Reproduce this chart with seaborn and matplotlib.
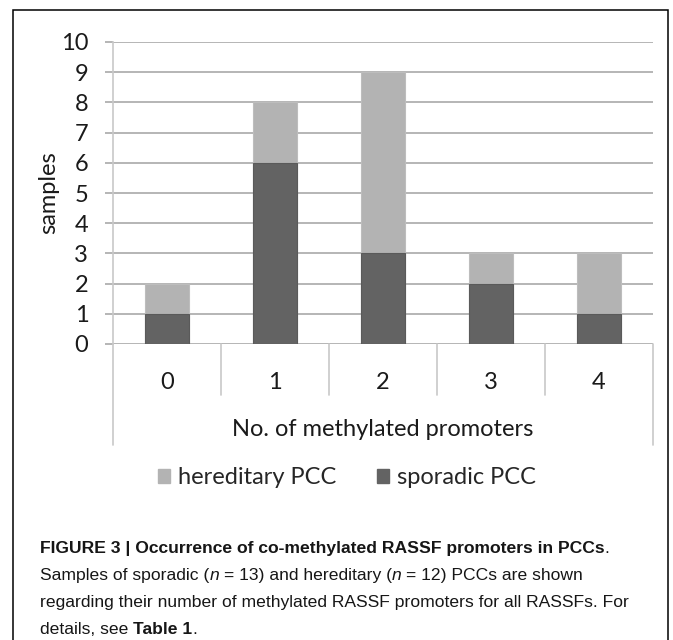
import matplotlib
matplotlib.use("Agg")
import matplotlib.pyplot as plt
import matplotlib.patches as mpatches
import matplotlib.transforms as mtransforms
import pandas as pd
import seaborn as sns

# values
promoters = ["0", "1", "2", "3", "4"]
sporadic = [1, 6, 3, 2, 1]
hereditary = [1, 2, 6, 1, 2]
y_ticks = list(range(0, 11))

W, H = 673, 640
light = "#B3B3B3"
dark = "#636363"
grid_c = "#A9A9A9"
line_c = "#C8C8C8"

sns.set_theme(style="white")
plt.rcParams["font.family"] = ["Lato", "DejaVu Sans"]

df = pd.DataFrame({"promoters": promoters, "sporadic": sporadic, "hereditary": hereditary})
df["total"] = df["sporadic"] + df["hereditary"]

fig = plt.figure(figsize=(W / 100, H / 100), dpi=100)
ax = fig.add_axes([113 / W, 1 - 344 / H, 540 / W, 302 / H])

# stacked bars: totals in light grey, sporadic part drawn over it
sns.barplot(data=df, x="promoters", y="total", color=light, width=0.4,
            edgecolor="#BDBDBD", linewidth=0.8, saturation=1, ax=ax)
sns.barplot(data=df, x="promoters", y="sporadic", color=dark, width=0.4,
            edgecolor="#5A5A5A", linewidth=0.8, saturation=1, ax=ax)

ax.set_xlim(-0.5, 4.5)
ax.set_ylim(0, 10)
ax.set_yticks(y_ticks)
ax.set_axisbelow(True)
ax.yaxis.grid(True, color=grid_c, linewidth=1.2)
ax.xaxis.grid(False)
for s in ["top", "right", "bottom"]:
    ax.spines[s].set_visible(False)
ax.spines["left"].set_color(line_c)
ax.spines["left"].set_linewidth(1.2)

ax.tick_params(axis="y", length=5.8, width=1.2, color=grid_c, pad=12,
               labelsize=17, labelcolor="#1a1a1a", left=True)
ax.tick_params(axis="x", length=0, pad=20, labelsize=17, labelcolor="#1a1a1a")

ax.set_ylabel("samples", fontsize=17, color="#1a1a1a")
ax.yaxis.set_label_coords(-0.12, 0.5)
ax.yaxis.label.set_va("center")
ax.set_xlabel("No. of methylated promoters", fontsize=17, color="#1a1a1a")
ax.xaxis.set_label_coords(0.5, (344 - 430) / 302)
ax.xaxis.label.set_va("center")

# category table lines below the axis
tr = mtransforms.blended_transform_factory(ax.transData, ax.transAxes)
ax.plot([-0.5, -0.5], [0, -101 / 302], color=line_c, lw=1.2, transform=tr, clip_on=False)
ax.plot([4.5, 4.5], [0, -101 / 302], color=line_c, lw=1.2, transform=tr, clip_on=False)
for xs in [0.5, 1.5, 2.5, 3.5]:
    ax.plot([xs, xs], [0, -51 / 302], color=line_c, lw=1.2, transform=tr, clip_on=False)

handles = [mpatches.Patch(facecolor=light, edgecolor=light, label="hereditary PCC"),
           mpatches.Patch(facecolor=dark, edgecolor=dark, label="sporadic PCC")]
fig.legend(handles=handles, loc="center", bbox_to_anchor=(347 / W, 1 - 478 / H),
           ncol=2, frameon=False, fontsize=17, handlelength=0.52, handleheight=0.52,
           handletextpad=0.35, columnspacing=1.7)

# outer frame
fig.patches.append(mpatches.Rectangle((13 / W, -0.05), (668 - 13) / W, 1.05 - 10 / H,
                                      transform=fig.transFigure, fill=False,
                                      edgecolor="black", linewidth=1.1))

# caption
renderer = fig.canvas.get_renderer()
cap_font = ["Liberation Sans", "DejaVu Sans"]
cap_size = 12.6


def text_w(s, **kw):
    t = fig.text(0, 0, s, **kw)
    w = t.get_window_extent(renderer).width
    t.remove()
    return w


def put_runs(y_px, runs, x_px=40):
    x = x_px
    for s, kw in runs:
        props = dict(size=cap_size, family=cap_font, color="#161616")
        props.update(kw)
        sp = text_w("n n", **props) - text_w("nn", **props)
        lead = len(s) - len(s.lstrip(" "))
        trail = len(s) - len(s.rstrip(" "))
        x += lead * sp
        t = fig.text(x / W, 1 - y_px / H, s.strip(" "), va="baseline", ha="left", **props)
        x += t.get_window_extent(renderer).width + trail * sp


B = {"fontweight": "bold"}
I = {"fontstyle": "italic"}
N = {}
put_runs(553, [("FIGURE 3 | Occurrence of co-methylated RASSF promoters in PCCs", B), (".", N)])
put_runs(580, [("Samples of sporadic (", N), ("n", I), (" = 13) and hereditary (", N),
               ("n", I), (" = 12) PCCs are shown", N)])
put_runs(607, [("regarding their number of methylated RASSF promoters for all RASSFs. For", N)])
put_runs(634, [("details, see ", N), ("Table 1", B), (".", N)])

fig.savefig("out.png", dpi=100)
